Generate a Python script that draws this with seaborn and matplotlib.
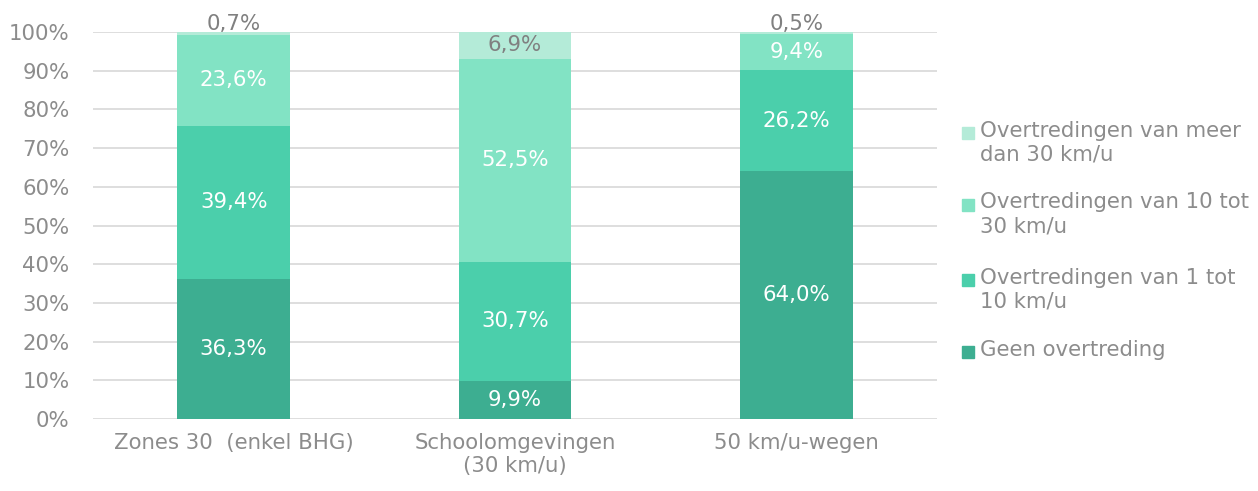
import matplotlib
matplotlib.use("Agg")
import matplotlib.pyplot as plt
from matplotlib.patches import Rectangle
import numpy as np
import seaborn as sns

# Categories and shares per speed class (percent)
categories = ["Zones 30  (enkel BHG)", "Schoolomgevingen\n(30 km/u)", "50 km/u-wegen"]
geen = [36.3, 9.9, 64.0]
van_1_tot_10 = [39.4, 30.7, 26.2]
van_10_tot_30 = [23.6, 52.5, 9.4]
meer_dan_30 = [0.7, 6.9, 0.5]

series_names = [
    "Geen overtreding",
    "Overtredingen van 1 tot\n10 km/u",
    "Overtredingen van 10 tot\n30 km/u",
    "Overtredingen van meer\ndan 30 km/u",
]
series_values = [geen, van_1_tot_10, van_10_tot_30, meer_dan_30]
series_colors = ["#3DAE91", "#4BCFAB", "#82E3C4", "#B4EBD8"]
label_colors = ["white", "white", "white", "#808080"]
tick_labels = [f"{v}%" for v in range(0, 101, 10)]

GRAY = "#8C8C8C"
FS = 15.3

sns.set_theme(style="white")
plt.rcParams["font.family"] = ["DejaVu Sans"]

fig = plt.figure(figsize=(12.58, 4.91), dpi=100)
ax = fig.add_axes([93 / 1258, 1 - 419 / 491, (937 - 93) / 1258, (419 - 32) / 491])

# Stacked bars: draw cumulative totals from the top layer down
vals = np.array(series_values)
cum = np.cumsum(vals, axis=0)
for i in range(len(series_values) - 1, -1, -1):
    sns.barplot(x=categories, y=np.minimum(cum[i], 100), color=series_colors[i],
                width=0.4, saturation=1, linewidth=0, ax=ax, zorder=2)

ax.set_ylim(0, 100)
ax.set_xlim(-0.5, 2.5)
ax.set_yticks(range(0, 101, 10))
ax.set_yticklabels(tick_labels)
ax.yaxis.grid(True, color="#DEDEDE", linewidth=1.4, zorder=0)
ax.set_axisbelow(True)
for s in ax.spines.values():
    s.set_visible(False)
ax.tick_params(axis="y", length=0, pad=17, labelsize=FS, labelcolor=GRAY)
ax.tick_params(axis="x", length=0, pad=10, labelsize=FS, labelcolor=GRAY)
ax.set_xlabel("")
ax.set_ylabel("")

# Segment value labels
for i, series in enumerate(series_values):
    for j, v in enumerate(series):
        txt = f"{v:.1f}%".replace(".", ",")
        bottom = cum[i][j] - v
        if v < 2:
            ax.text(j, 99.6, txt, ha="center", va="bottom", fontsize=FS,
                    color="#808080", zorder=5)
        else:
            ax.text(j, bottom + v / 2, txt, ha="center", va="center", fontsize=FS,
                    color=label_colors[i], zorder=5)

# Legend, top item first (reverse stacking order)
legend_rows = [133, 205, 280, 352]
for k, idx in enumerate(range(len(series_names) - 1, -1, -1)):
    y = legend_rows[k]
    fig.patches.append(Rectangle((962 / 1258, 1 - (y + 6) / 491), 12 / 1258, 12 / 491,
                                 transform=fig.transFigure, color=series_colors[idx],
                                 figure=fig))
    fig.text(980 / 1258, 1 - (y - 12.5) / 491, series_names[idx], ha="left", va="top",
             fontsize=FS, color=GRAY, linespacing=1.25)

fig.savefig("out.png", dpi=100)
